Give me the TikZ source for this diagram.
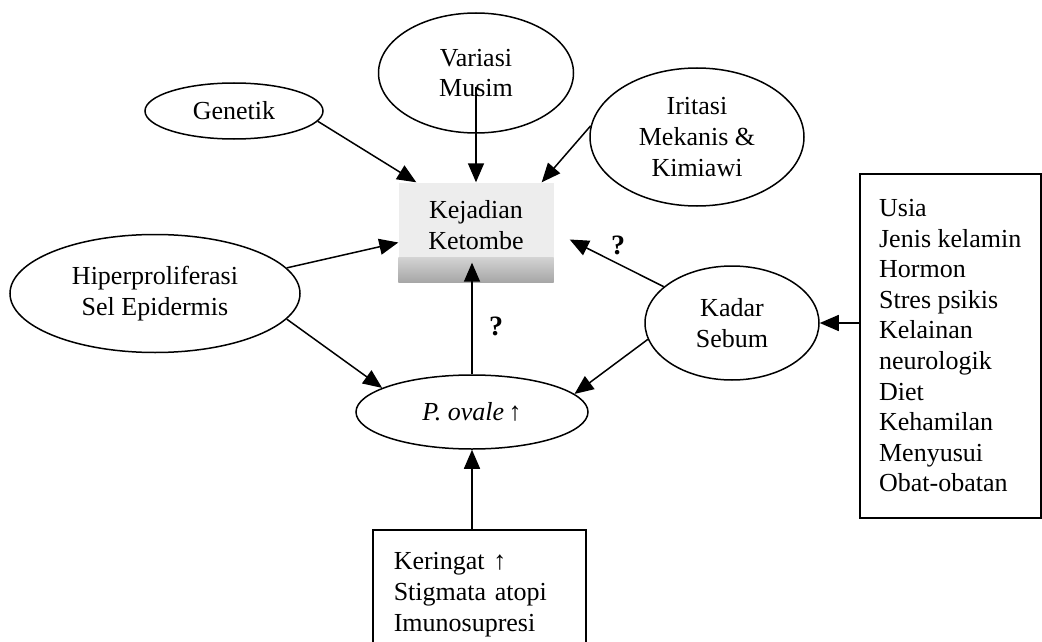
\documentclass[tikz,border=0pt]{standalone}
\usepackage{fontspec}
\setmainfont{Liberation Serif}
\usetikzlibrary{arrows.meta,shapes.geometric,calc}
\begin{document}
\begin{tikzpicture}[x=1pt,y=-1pt,
  every node/.style={font=\fontsize{26}{30.6}\selectfont},
  oval/.style={draw, ellipse, line width=1.5pt, inner sep=0pt, align=center},
  arr/.style={line width=1.5pt, -{Triangle[length=19pt,width=16pt]}},
  listbox/.style={draw, line width=1.5pt, rectangle, align=left, anchor=north west},
  plain/.style={inner sep=0pt, align=center},
]
\useasboundingbox (0,0) rectangle (1042,642);

% ellipses
\node[oval, minimum width=178pt, minimum height=56pt] (gen) at (234,111) {Genetik};
\node[oval, minimum width=195pt, minimum height=120pt] (var) at (476,73) {Variasi\\Musim};
\node[oval, minimum width=214pt, minimum height=138pt] (iri) at (697,137) {Iritasi\\Mekanis \&\\Kimiawi};
\node[oval, minimum width=290pt, minimum height=118pt] (hip) at (155,293.5) {Hiperproliferasi\\Sel Epidermis};
\node[oval, minimum width=174pt, minimum height=114pt] (kad) at (732,323) {Kadar\\Sebum};
\node[oval, minimum width=232pt, minimum height=74pt] (pov) at (472,412) {\textit{P. ovale}\,↑};

% central box
\node[fill=gray!14, minimum width=155pt, minimum height=100pt, inner sep=0pt] (box) at (476,232.5) {};
\shade[top color=gray!35, bottom color=gray!70] (box.south west) rectangle ([yshift=25pt]box.south east);
\node[plain] (kt) at (476,225) {Kejadian\\Ketombe};
\coordinate (ptip) at ($(pov.north |- box.south)+(0,-20)$);

% list boxes
\node[listbox, minimum width=181pt, minimum height=344pt, inner sep=0pt] (rbox) at (859,173)
  {Usia\\Jenis kelamin\\Hormon\\Stres psikis\\Kelainan\\neurologik\\Diet\\Kehamilan\\Menyusui\\Obat-obatan};
\node[listbox, minimum width=213pt, minimum height=130pt, inner xsep=21pt, inner ysep=0pt, text width=171pt] (bot) at (372,529)
  {Keringat ↑\\Stigmata atopi\\Imunosupresi};

% question marks
\node[plain, font=\fontsize{28}{30}\selectfont\bfseries] (q1) at (618,245) {?};
\node[plain, font=\fontsize{28}{30}\selectfont\bfseries] (q2) at (496,326) {?};

% connectors
\draw[arr] (gen.-7) -- ([xshift=18pt]box.north west);
\draw[arr] ([yshift=-14pt]var.center) -- (box.north);
\draw[arr] (iri.174) -- ([xshift=-12pt]box.north east);
\draw[arr] (hip.11) -- ([yshift=-10pt]box.west);
\draw[arr] (hip.-11) -- (pov.165);
\draw[arr] (kad.152) -- ([xshift=16pt,yshift=-7pt]box.east);
\draw[arr] (kad.191) -- (pov.10);
\draw[arr] (pov.north) -- (ptip);
\draw[arr] (bot.north -| pov.south) -- (pov.south);
\draw[arr] (rbox.west |- kad.east) -- (kad.east);
\end{tikzpicture}
\end{document}
